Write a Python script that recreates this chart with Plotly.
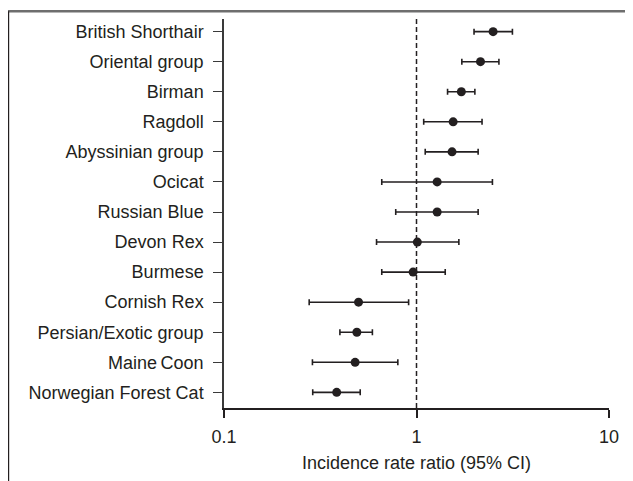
import plotly.graph_objects as go

breeds = ["British Shorthair", "Oriental group", "Birman", "Ragdoll", "Abyssinian group",
          "Ocicat", "Russian Blue", "Devon Rex", "Burmese", "Cornish Rex",
          "Persian/Exotic group", "Maine\u2009Coon", "Norwegian Forest Cat"]
irr = [2.50, 2.15, 1.71, 1.55, 1.53, 1.28, 1.28, 1.01, 0.96, 0.50, 0.49, 0.48, 0.385]
ci_low = [1.99, 1.72, 1.45, 1.09, 1.11, 0.66, 0.78, 0.62, 0.66, 0.277, 0.40, 0.288, 0.289]
ci_high = [3.15, 2.68, 2.01, 2.19, 2.09, 2.48, 2.09, 1.66, 1.41, 0.91, 0.59, 0.80, 0.51]
x_ticks = [0.1, 1, 10]
x_ticktext = ["0.1", "1", "10"]

n = len(breeds)
ypos = [n - 1 - i for i in range(n)]
ink = "#231f20"
font = "Liberation Sans, Arial, sans-serif"

W, H = 625, 473
L, R, T, B = 216, 24, 11, 65
pw, ph = W - L - R, H - T - B

fig = go.Figure()
# reference line at 1
fig.add_trace(go.Scatter(x=[1, 1], y=[-0.52, n - 0.58], mode="lines",
                         line=dict(color=ink, width=1.5, dash="5px,3px"),
                         hoverinfo="skip", showlegend=False))
fig.add_trace(go.Scatter(
    x=irr, y=ypos, mode="markers",
    marker=dict(size=9, color=ink),
    error_x=dict(type="data", symmetric=False,
                 array=[h - v for h, v in zip(ci_high, irr)],
                 arrayminus=[v - l for v, l in zip(irr, ci_low)],
                 color=ink, thickness=1.6, width=3),
    showlegend=False))

fig.update_layout(
    width=W, height=H,
    margin=dict(l=L, r=R, t=T, b=B),
    paper_bgcolor="white", plot_bgcolor="white",
    font=dict(family=font, size=18, color=ink),
    xaxis=dict(type="log", range=[-1, 1], tickvals=x_ticks, ticktext=x_ticktext,
               showgrid=False, zeroline=False, showline=True, linecolor=ink, linewidth=2,
               ticks="outside", ticklen=8, tickwidth=2, tickcolor=ink,
               ticklabelstandoff=3,
               title=dict(text="Incidence rate ratio (95% CI)", standoff=11,
                          font=dict(size=18))),
    yaxis=dict(range=[-0.52, n - 0.58], tickvals=ypos, ticktext=breeds,
               showgrid=False, zeroline=False, showline=True, linecolor="#3a3a3a", linewidth=1.5,
               ticks="outside", ticklen=9, tickwidth=1.3, tickcolor="#3a3a3a",
               ticklabelstandoff=6),
)
# outer frame lines (top and left)
fig.add_shape(type="line", xref="paper", yref="paper",
              x0=(0 - L) / pw, x1=(W + 10 - L) / pw,
              y0=(T + ph - 3) / ph, y1=(T + ph - 3) / ph,
              line=dict(color="#6e6e6e", width=2.5))
fig.add_shape(type="line", xref="paper", yref="paper",
              x0=(0.6 - L) / pw, x1=(0.6 - L) / pw,
              y0=(T + ph - 3) / ph, y1=(T + ph - H - 10) / ph,
              line=dict(color=ink, width=1.2))

fig.write_html("out.html")
